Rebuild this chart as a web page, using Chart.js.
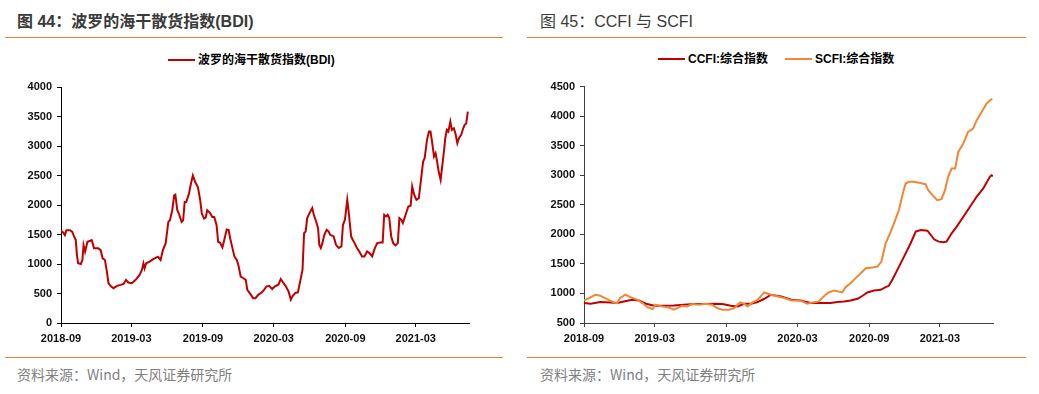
<!DOCTYPE html>
<html>
<head>
<meta charset="utf-8">
<script src="https://cdn.jsdelivr.net/npm/chart.js@4"></script>
<style>
  body{margin:0;width:1039px;height:394px;background:#fff;position:relative;overflow:hidden;}
  .t{position:absolute;font:bold 16px "Liberation Sans","Noto Sans CJK SC";color:#3a3a3a;line-height:20px;white-space:nowrap;}
  .rule{position:absolute;height:1px;background:#ED7D31;}
  .src{position:absolute;font:14px "Noto Sans CJK SC";color:#7f7f7f;line-height:16px;white-space:nowrap;}
  .lg{position:absolute;font:bold 12px "Liberation Sans","Noto Sans CJK SC";color:#000;line-height:14px;white-space:nowrap;}
  .lg i{display:inline-block;width:27px;height:2px;vertical-align:middle;margin-right:3px;margin-top:-2px;}
  .box{position:absolute;top:75px;}
</style>
</head>
<body>
<div class="t" style="left:17px;top:12px">图 44：波罗的海干散货指数(BDI)</div>
<div class="rule" style="left:5px;top:37px;width:498px"></div>
<div class="lg" style="left:168px;top:53px"><i style="background:#C00000"></i>波罗的海干散货指数(BDI)</div>
<div class="box" style="left:0"><canvas id="bdi" width="500" height="280"></canvas></div>
<div class="rule" style="left:5px;top:357px;width:498px"></div>
<div class="src" style="left:17px;top:366px">资料来源：Wind，天风证券研究所</div>

<div class="t" style="left:540px;top:12px;font-weight:normal">图 45：CCFI 与 SCFI</div>
<div class="rule" style="left:527px;top:37px;width:499px"></div>
<div class="lg" style="left:658px;top:52px"><i style="background:#C00000"></i>CCFI:综合指数</div>
<div class="lg" style="left:785px;top:52px"><i style="background:#F08636"></i>SCFI:综合指数</div>
<div class="box" style="left:520px"><canvas id="freight" width="500" height="280"></canvas></div>
<div class="rule" style="left:527px;top:357px;width:499px"></div>
<div class="src" style="left:540px;top:366px">资料来源：Wind，天风证券研究所</div>

<script>
// tick labels shared by both charts
const xTickLabels = ['2018-09','2019-03','2019-09','2020-03','2020-09','2021-03'];

const bdiDates = ['2018-09-01','2018-09-07','2018-09-11','2018-09-15','2018-09-24','2018-09-30','2018-10-05','2018-10-09','2018-10-12','2018-10-15','2018-10-22','2018-10-26','2018-10-29','2018-11-02','2018-11-08','2018-11-15','2018-11-19','2018-11-25','2018-12-06','2018-12-12','2018-12-17','2018-12-23','2018-12-28','2019-01-01','2019-01-08','2019-01-14','2019-01-23','2019-02-01','2019-02-09','2019-02-15','2019-02-21','2019-03-02','2019-03-12','2019-03-22','2019-03-28','2019-04-01','2019-04-04','2019-04-08','2019-04-17','2019-04-25','2019-05-08','2019-05-15','2019-05-21','2019-05-28','2019-06-04','2019-06-08','2019-06-14','2019-06-19','2019-06-22','2019-06-27','2019-07-01','2019-07-08','2019-07-12','2019-07-16','2019-07-20','2019-07-27','2019-08-01','2019-08-06','2019-08-12','2019-08-19','2019-08-25','2019-08-29','2019-09-04','2019-09-08','2019-09-12','2019-09-19','2019-09-25','2019-09-30','2019-10-06','2019-10-10','2019-10-15','2019-10-21','2019-10-26','2019-11-01','2019-11-06','2019-11-10','2019-11-16','2019-11-21','2019-11-27','2019-12-01','2019-12-07','2019-12-14','2019-12-20','2019-12-24','2020-01-01','2020-01-08','2020-01-14','2020-01-21','2020-01-30','2020-02-05','2020-02-11','2020-02-18','2020-02-26','2020-03-04','2020-03-13','2020-03-19','2020-03-26','2020-04-01','2020-04-08','2020-04-14','2020-04-18','2020-04-25','2020-05-02','2020-05-08','2020-05-14','2020-05-18','2020-05-22','2020-05-26','2020-06-01','2020-06-08','2020-06-12','2020-06-18','2020-06-23','2020-06-26','2020-06-30','2020-07-04','2020-07-09','2020-07-15','2020-07-20','2020-07-24','2020-08-02','2020-08-08','2020-08-15','2020-08-22','2020-08-26','2020-08-31','2020-09-06','2020-09-10','2020-09-16','2020-09-20','2020-09-25','2020-10-01','2020-10-07','2020-10-14','2020-10-20','2020-10-27','2020-11-02','2020-11-09','2020-11-16','2020-11-22','2020-11-30','2020-12-06','2020-12-10','2020-12-15','2020-12-19','2020-12-23','2020-12-28','2021-01-02','2021-01-08','2021-01-14','2021-01-18','2021-01-23','2021-01-27','2021-02-03','2021-02-10','2021-02-16','2021-02-20','2021-02-24','2021-02-27','2021-03-03','2021-03-09','2021-03-14','2021-03-20','2021-03-24','2021-03-30','2021-04-04','2021-04-08','2021-04-12','2021-04-17','2021-04-21','2021-04-25','2021-04-29','2021-05-04','2021-05-08','2021-05-13','2021-05-16','2021-05-20','2021-05-24','2021-05-29','2021-06-02','2021-06-07','2021-06-11','2021-06-16','2021-06-20','2021-06-26','2021-07-01','2021-07-05','2021-07-09','2021-07-13'];
const bdiValues = [1562,1529,1489,1574,1574,1545,1461,1405,1152,1012,1000,1068,1320,1208,1377,1394,1405,1265,1265,1236,1096,1068,871,674,618,590,629,646,663,731,686,674,731,815,899,1012,927,1012,1040,1079,1124,1068,1236,1349,1714,1742,1911,2164,2175,1911,1855,1714,1742,2051,2051,2192,2360,2501,2389,2304,2079,1855,1770,1787,1911,1866,1798,1798,1658,1377,1360,1281,1416,1585,1574,1433,1265,1124,1068,983,787,759,731,562,489,421,421,478,517,562,618,629,576,621,649,745,677,621,536,395,451,508,519,705,903,1524,1552,1778,1862,1947,1834,1721,1608,1326,1270,1354,1495,1580,1552,1495,1467,1326,1270,1298,1665,1749,2088,1862,1467,1411,1354,1270,1213,1129,1129,1213,1185,1129,1270,1354,1366,1366,1834,1806,1834,1778,1467,1354,1315,1354,1778,1749,1693,1834,1975,1986,2314,2201,2144,2088,2116,2398,2737,2793,3104,3245,3245,3075,2822,2878,2737,2567,2426,2652,2934,3132,3273,3245,3414,3273,3301,3216,3047,3132,3188,3301,3358,3386,3583];

const ccfiDates = ['2018-09-01','2018-09-18','2018-10-13','2018-11-08','2018-11-25','2018-12-12','2019-01-03','2019-01-20','2019-02-07','2019-02-28','2019-03-24','2019-04-19','2019-05-15','2019-06-10','2019-07-05','2019-07-31','2019-08-22','2019-09-12','2019-09-30','2019-10-16','2019-11-03','2019-11-20','2019-12-07','2019-12-24','2020-01-19','2020-02-14','2020-03-10','2020-03-18','2020-04-04','2020-04-21','2020-05-08','2020-05-25','2020-06-11','2020-06-28','2020-07-15','2020-08-02','2020-08-15','2020-08-27','2020-09-13','2020-09-30','2020-10-13','2020-10-21','2020-10-30','2020-11-12','2020-11-29','2020-12-16','2020-12-29','2021-01-11','2021-01-28','2021-02-06','2021-02-14','2021-02-26','2021-03-10','2021-03-18','2021-03-31','2021-04-13','2021-04-30','2021-05-17','2021-06-03','2021-06-20','2021-07-07','2021-07-11','2021-07-15'];
const ccfiValues = [837,826,854,848,837,865,893,882,826,792,792,798,809,820,820,826,820,792,781,826,826,854,910,978,950,893,882,865,837,837,837,837,854,865,882,910,961,1017,1051,1062,1107,1129,1231,1399,1624,1849,2046,2074,2062,1989,1916,1877,1866,1877,2017,2130,2298,2467,2636,2776,2973,3001,2984];

const scfiDates = ['2018-09-01','2018-09-14','2018-09-30','2018-10-13','2018-10-30','2018-11-17','2018-11-25','2018-12-02','2018-12-16','2018-12-29','2019-01-16','2019-01-29','2019-02-11','2019-02-24','2019-03-03','2019-03-20','2019-04-06','2019-04-19','2019-04-28','2019-05-10','2019-05-23','2019-06-05','2019-06-22','2019-07-09','2019-07-26','2019-08-08','2019-08-21','2019-09-08','2019-09-21','2019-10-06','2019-10-16','2019-10-25','2019-11-07','2019-11-20','2019-12-07','2019-12-24','2020-01-11','2020-01-28','2020-02-14','2020-03-10','2020-03-13','2020-03-26','2020-04-08','2020-04-25','2020-05-03','2020-05-12','2020-05-20','2020-06-02','2020-06-24','2020-07-02','2020-07-15','2020-07-28','2020-08-10','2020-08-23','2020-09-09','2020-09-22','2020-10-02','2020-10-13','2020-10-26','2020-11-08','2020-11-16','2020-11-25','2020-12-03','2020-12-12','2020-12-24','2021-01-07','2021-01-15','2021-01-23','2021-01-30','2021-02-10','2021-02-22','2021-03-05','2021-03-14','2021-03-22','2021-03-31','2021-04-09','2021-04-17','2021-04-30','2021-05-12','2021-05-25','2021-06-03','2021-06-16','2021-06-28','2021-07-07','2021-07-13'];
const scfiValues = [882,921,978,961,905,848,837,921,978,938,893,837,764,736,809,781,764,725,753,792,781,820,809,826,809,753,725,725,753,848,826,781,848,893,1017,978,950,921,882,882,865,826,848,865,921,978,1017,1051,1017,1107,1174,1259,1343,1427,1439,1455,1540,1849,2046,2270,2411,2664,2860,2888,2888,2872,2860,2849,2748,2664,2579,2596,2748,2973,3113,3113,3394,3535,3732,3788,3928,4069,4209,4265,4294];

const dayNum = s => Date.UTC(+s.slice(0,4), +s.slice(5,7)-1, +s.slice(8,10)) / 864e5;
const pts = (dates, vals) => dates.map((d,i) => ({x: dayNum(d), y: vals[i]}));
const tickFont = {family:'"Liberation Sans", Arial', size:11, weight:'bold'};

function makeChart(id, datasets, o){
  const axis = o.axisColor;
  const grid = {display:true, drawOnChartArea:false, drawTicks:true, tickLength:4, tickColor:axis};
  new Chart(document.getElementById(id), {
    type:'line',
    data:{ datasets },
    options:{
      responsive:false, animation:false,
      layout:{ padding:o.pad },
      plugins:{ legend:{display:false}, tooltip:{enabled:false} },
      elements:{ point:{radius:0}, line:{borderWidth:2, tension:0} },
      scales:{
        x:{ type:'linear', min:dayNum('2018-09-01'), max:dayNum(o.xMax),
            grid, border:{display:true, color:axis, width:1},
            afterBuildTicks: s => { s.ticks = xTickLabels.map(l => ({value: dayNum(l + '-01')})); },
            afterFit: s => { s.height = o.xH; },
            ticks:{ font:tickFont, color:'#111', padding:5, maxRotation:0, autoSkip:false,
                    callback:(v, i) => xTickLabels[i] } },
        y:{ min:o.yMin, max:o.yMax,
            grid, border:{display:true, color:axis, width:1},
            afterFit: s => { s.width = o.yW; },
            ticks:{ font:tickFont, color:'#111', padding:5, stepSize:500, callback:v => String(v) } }
      }
    }
  });
}

makeChart('bdi', [
  { label:'波罗的海干散货指数(BDI)', data:pts(bdiDates, bdiValues), borderColor:'#C00000', backgroundColor:'#C00000' }
], { axisColor:'#000', pad:{top:12, right:31, bottom:0, left:0}, yW:61, xH:32, yMin:0, yMax:4000, xMax:'2021-07-16' });

makeChart('freight', [
  { label:'SCFI:综合指数', data:pts(scfiDates, scfiValues), borderColor:'#F08636', backgroundColor:'#F08636' },
  { label:'CCFI:综合指数', data:pts(ccfiDates, ccfiValues), borderColor:'#C00000', backgroundColor:'#C00000' }
], { axisColor:'#404040', pad:{top:10, right:27, bottom:0, left:0}, yW:64, xH:32, yMin:500, yMax:4500, xMax:'2021-07-15' });
</script>
</body>
</html>
